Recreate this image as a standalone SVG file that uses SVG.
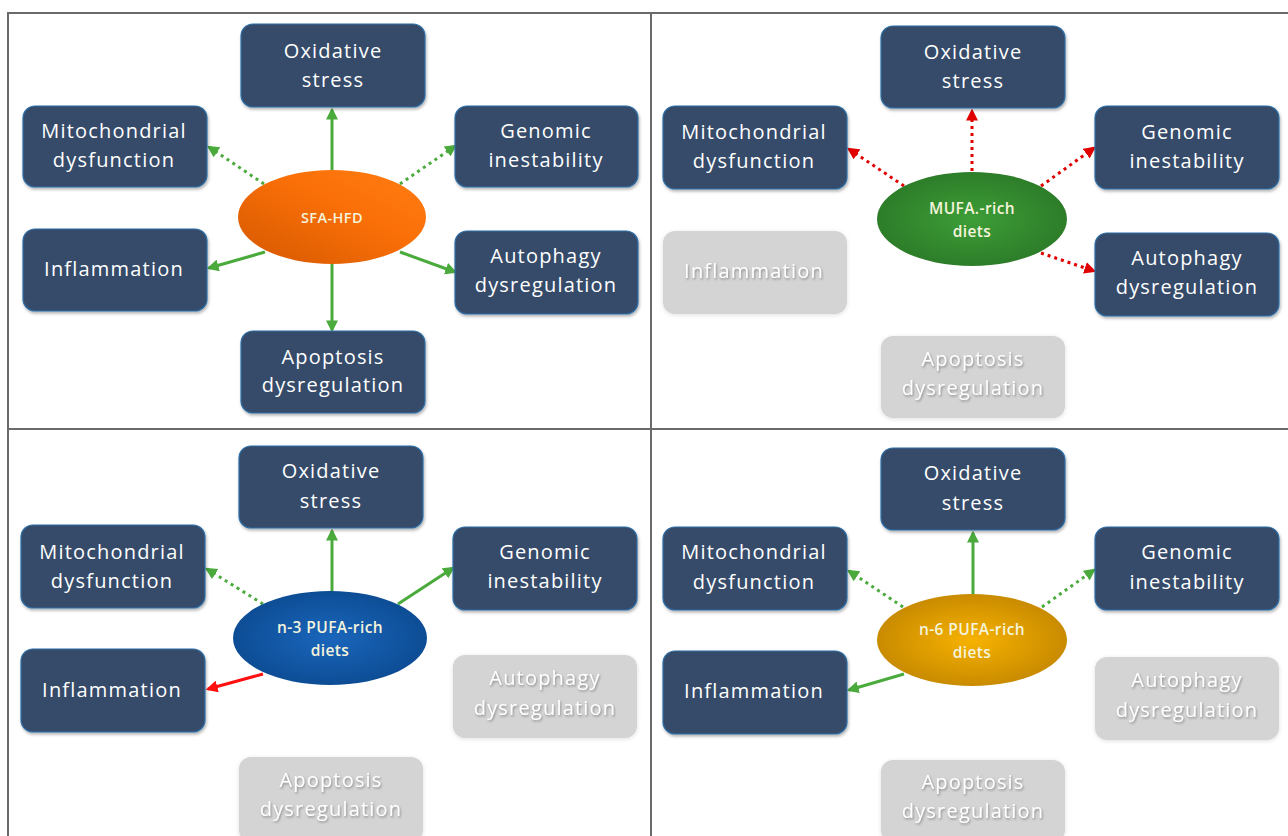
<svg xmlns="http://www.w3.org/2000/svg" width="1288" height="836" viewBox="0 0 1288 836">
<defs>
<style>
.box{fill:#364b69;stroke:#2d6ea6;stroke-width:1.2;filter:url(#sh)}
.gbox{fill:#d4d4d4;filter:url(#gsh)}
.t{font-family:"Open Sans","Liberation Sans",sans-serif;font-size:20px;letter-spacing:1.2px;fill:#ffffff;text-anchor:middle}
.gt{font-family:"Open Sans","Liberation Sans",sans-serif;font-size:20px;letter-spacing:1.2px;fill:#ffffff;text-anchor:middle;filter:url(#tsh)}
.et{font-family:"Open Sans","Liberation Sans",sans-serif;font-size:15.5px;font-weight:600;letter-spacing:0.4px;fill:#f4f4dc;text-anchor:middle}
.g{stroke:#4aaa3c;stroke-width:3;fill:none}
.gd{stroke:#4aaa3c;stroke-width:3;fill:none;stroke-dasharray:3 4}
.rd{stroke:#e00000;stroke-width:3;fill:none;stroke-dasharray:3 4}
.r{stroke:#ff1010;stroke-width:3;fill:none}
.grid{fill:none;stroke:#6a6a6a;stroke-width:2}
</style>
<filter id="sh" x="-10%" y="-10%" width="120%" height="130%"><feDropShadow dx="1" dy="2" stdDeviation="1.5" flood-color="#000" flood-opacity="0.3"/></filter>
<filter id="gsh" x="-10%" y="-10%" width="120%" height="130%"><feDropShadow dx="0" dy="1" stdDeviation="2" flood-color="#000" flood-opacity="0.12"/></filter>
<filter id="tsh" x="-10%" y="-20%" width="120%" height="150%"><feDropShadow dx="1" dy="1.5" stdDeviation="0.8" flood-color="#7a7a7a" flood-opacity="0.8"/></filter>
<marker id="ag" viewBox="0 0 10 10" refX="8" refY="5" markerWidth="4" markerHeight="4" orient="auto"><path d="M0,0 L10,5 L0,10 z" fill="#4aaa3c"/></marker>
<marker id="ar" viewBox="0 0 10 10" refX="8" refY="5" markerWidth="4" markerHeight="4" orient="auto"><path d="M0,0 L10,5 L0,10 z" fill="#e00000"/></marker>
<marker id="arr" viewBox="0 0 10 10" refX="8" refY="5" markerWidth="4" markerHeight="4" orient="auto"><path d="M0,0 L10,5 L0,10 z" fill="#ff1010"/></marker>
<linearGradient id="gOr" x1="0" y1="1" x2="1" y2="0"><stop offset="0" stop-color="#d45800"/><stop offset="0.6" stop-color="#fb7008"/><stop offset="1" stop-color="#ff7c14"/></linearGradient>
<radialGradient id="gGr" cx="0.5" cy="0.5" r="0.5"><stop offset="0" stop-color="#3d9e37"/><stop offset="1" stop-color="#2d7d29"/></radialGradient>
<radialGradient id="gBl" cx="0.5" cy="0.5" r="0.5"><stop offset="0" stop-color="#1a66bc"/><stop offset="1" stop-color="#0d4d95"/></radialGradient>
<radialGradient id="gYe" cx="0.5" cy="0.5" r="0.5"><stop offset="0" stop-color="#f7b200"/><stop offset="1" stop-color="#c98b00"/></radialGradient>
</defs>
<rect width="1288" height="836" fill="#ffffff"/>
<g id="grid">
<rect class="grid" x="8" y="13" width="1300" height="840"/>
<line class="grid" x1="651" y1="13" x2="651" y2="836"/>
<line class="grid" x1="8" y1="429" x2="1288" y2="429"/>
</g>
<g id="connectors">
<line class="g" x1="332" y1="170" x2="332" y2="110" marker-end="url(#ag)"/>
<line class="gd" x1="264" y1="184" x2="209" y2="147" marker-end="url(#ag)"/>
<line class="gd" x1="400" y1="184" x2="455" y2="146" marker-end="url(#ag)"/>
<line class="g" x1="265" y1="252" x2="209" y2="268" marker-end="url(#ag)"/>
<line class="g" x1="400" y1="252" x2="455" y2="272" marker-end="url(#ag)"/>
<line class="g" x1="332" y1="264" x2="332" y2="330" marker-end="url(#ag)"/>
<line class="rd" x1="972" y1="171" x2="972" y2="111" marker-end="url(#ar)"/>
<line class="rd" x1="904" y1="186" x2="849" y2="149" marker-end="url(#ar)"/>
<line class="rd" x1="1041" y1="186" x2="1094" y2="148" marker-end="url(#ar)"/>
<line class="rd" x1="1041" y1="253" x2="1094" y2="271" marker-end="url(#ar)"/>
<line class="g" x1="332" y1="592" x2="332" y2="531" marker-end="url(#ag)"/>
<line class="gd" x1="263" y1="604" x2="207" y2="569" marker-end="url(#ag)"/>
<line class="g" x1="398" y1="604" x2="453" y2="568" marker-end="url(#ag)"/>
<line class="r" x1="263" y1="674" x2="208" y2="689" marker-end="url(#arr)"/>
<line class="g" x1="973" y1="594" x2="973" y2="533" marker-end="url(#ag)"/>
<line class="gd" x1="903" y1="607" x2="849" y2="571" marker-end="url(#ag)"/>
<line class="gd" x1="1042" y1="607" x2="1094" y2="570" marker-end="url(#ag)"/>
<line class="g" x1="904" y1="674" x2="849" y2="690" marker-end="url(#ag)"/>
</g>
<g id="p1-oxidative"><rect class="box" x="241" y="24" width="184" height="83" rx="12"/><text class="t" x="333" y="58">Oxidative</text><text class="t" x="333" y="87">stress</text></g>
<g id="p1-mito"><rect class="box" x="23" y="106" width="184" height="81" rx="12"/><text class="t" x="114" y="138">Mitochondrial</text><text class="t" x="114" y="167">dysfunction</text></g>
<g id="p1-genomic"><rect class="box" x="455" y="106" width="183" height="81" rx="12"/><text class="t" x="546" y="138">Genomic</text><text class="t" x="546" y="167">inestability</text></g>
<g id="p1-inflam"><rect class="box" x="23" y="229" width="184" height="82" rx="12"/><text class="t" x="114" y="276">Inflammation</text></g>
<g id="p1-autophagy"><rect class="box" x="455" y="231" width="183" height="83" rx="12"/><text class="t" x="546" y="263">Autophagy</text><text class="t" x="546" y="292">dysregulation</text></g>
<g id="p1-apoptosis"><rect class="box" x="241" y="331" width="184" height="82" rx="12"/><text class="t" x="333" y="364">Apoptosis</text><text class="t" x="333" y="392">dysregulation</text></g>
<g id="p1-sfa"><ellipse cx="332" cy="217" rx="94" ry="47" fill="url(#gOr)"/><text class="et" x="332" y="223" style="font-size:14.5px">SFA-HFD</text></g>
<g id="p2-oxidative"><rect class="box" x="881" y="26" width="184" height="82" rx="12"/><text class="t" x="973" y="59">Oxidative</text><text class="t" x="973" y="88">stress</text></g>
<g id="p2-mito"><rect class="box" x="663" y="106" width="184" height="83" rx="12"/><text class="t" x="754" y="139">Mitochondrial</text><text class="t" x="754" y="168">dysfunction</text></g>
<g id="p2-genomic"><rect class="box" x="1095" y="106" width="184" height="83" rx="12"/><text class="t" x="1187" y="139">Genomic</text><text class="t" x="1187" y="168">inestability</text></g>
<g id="p2-inflam"><rect class="gbox" x="663" y="231" width="184" height="83" rx="12"/><text class="gt" x="754" y="278">Inflammation</text></g>
<g id="p2-autophagy"><rect class="box" x="1095" y="233" width="184" height="83" rx="12"/><text class="t" x="1187" y="265">Autophagy</text><text class="t" x="1187" y="294">dysregulation</text></g>
<g id="p2-apoptosis"><rect class="gbox" x="881" y="336" width="184" height="82" rx="12"/><text class="gt" x="973" y="366">Apoptosis</text><text class="gt" x="973" y="395">dysregulation</text></g>
<g id="p2-mufa"><ellipse cx="972" cy="219" rx="95" ry="47" fill="url(#gGr)"/><text class="et" x="972" y="214">MUFA.-rich</text><text class="et" x="972" y="237">diets</text></g>
<g id="p3-oxidative"><rect class="box" x="239" y="446" width="184" height="82" rx="12"/><text class="t" x="331" y="478">Oxidative</text><text class="t" x="331" y="508">stress</text></g>
<g id="p3-mito"><rect class="box" x="21" y="525" width="184" height="83" rx="12"/><text class="t" x="112" y="559">Mitochondrial</text><text class="t" x="112" y="588">dysfunction</text></g>
<g id="p3-genomic"><rect class="box" x="453" y="527" width="184" height="83" rx="12"/><text class="t" x="545" y="559">Genomic</text><text class="t" x="545" y="588">inestability</text></g>
<g id="p3-inflam"><rect class="box" x="21" y="649" width="184" height="83" rx="12"/><text class="t" x="112" y="697">Inflammation</text></g>
<g id="p3-autophagy"><rect class="gbox" x="453" y="655" width="184" height="83" rx="12"/><text class="gt" x="545" y="685">Autophagy</text><text class="gt" x="545" y="715">dysregulation</text></g>
<g id="p3-apoptosis"><rect class="gbox" x="239" y="757" width="184" height="85" rx="12"/><text class="gt" x="331" y="787">Apoptosis</text><text class="gt" x="331" y="816">dysregulation</text></g>
<g id="p3-n3"><ellipse cx="330" cy="638" rx="97" ry="47" fill="url(#gBl)"/><text class="et" x="330" y="633">n-3 PUFA-rich</text><text class="et" x="330" y="656">diets</text></g>
<g id="p4-oxidative"><rect class="box" x="881" y="448" width="184" height="82" rx="12"/><text class="t" x="973" y="480">Oxidative</text><text class="t" x="973" y="510">stress</text></g>
<g id="p4-mito"><rect class="box" x="663" y="527" width="184" height="83" rx="12"/><text class="t" x="754" y="559">Mitochondrial</text><text class="t" x="754" y="589">dysfunction</text></g>
<g id="p4-genomic"><rect class="box" x="1095" y="527" width="184" height="83" rx="12"/><text class="t" x="1187" y="559">Genomic</text><text class="t" x="1187" y="589">inestability</text></g>
<g id="p4-inflam"><rect class="box" x="663" y="651" width="184" height="83" rx="12"/><text class="t" x="754" y="698">Inflammation</text></g>
<g id="p4-autophagy"><rect class="gbox" x="1095" y="657" width="184" height="83" rx="12"/><text class="gt" x="1187" y="687">Autophagy</text><text class="gt" x="1187" y="717">dysregulation</text></g>
<g id="p4-apoptosis"><rect class="gbox" x="881" y="760" width="184" height="82" rx="12"/><text class="gt" x="973" y="789">Apoptosis</text><text class="gt" x="973" y="818">dysregulation</text></g>
<g id="p4-n6"><ellipse cx="972" cy="640" rx="95" ry="46" fill="url(#gYe)"/><text class="et" x="972" y="635">n-6 PUFA-rich</text><text class="et" x="972" y="658">diets</text></g>
</svg>
